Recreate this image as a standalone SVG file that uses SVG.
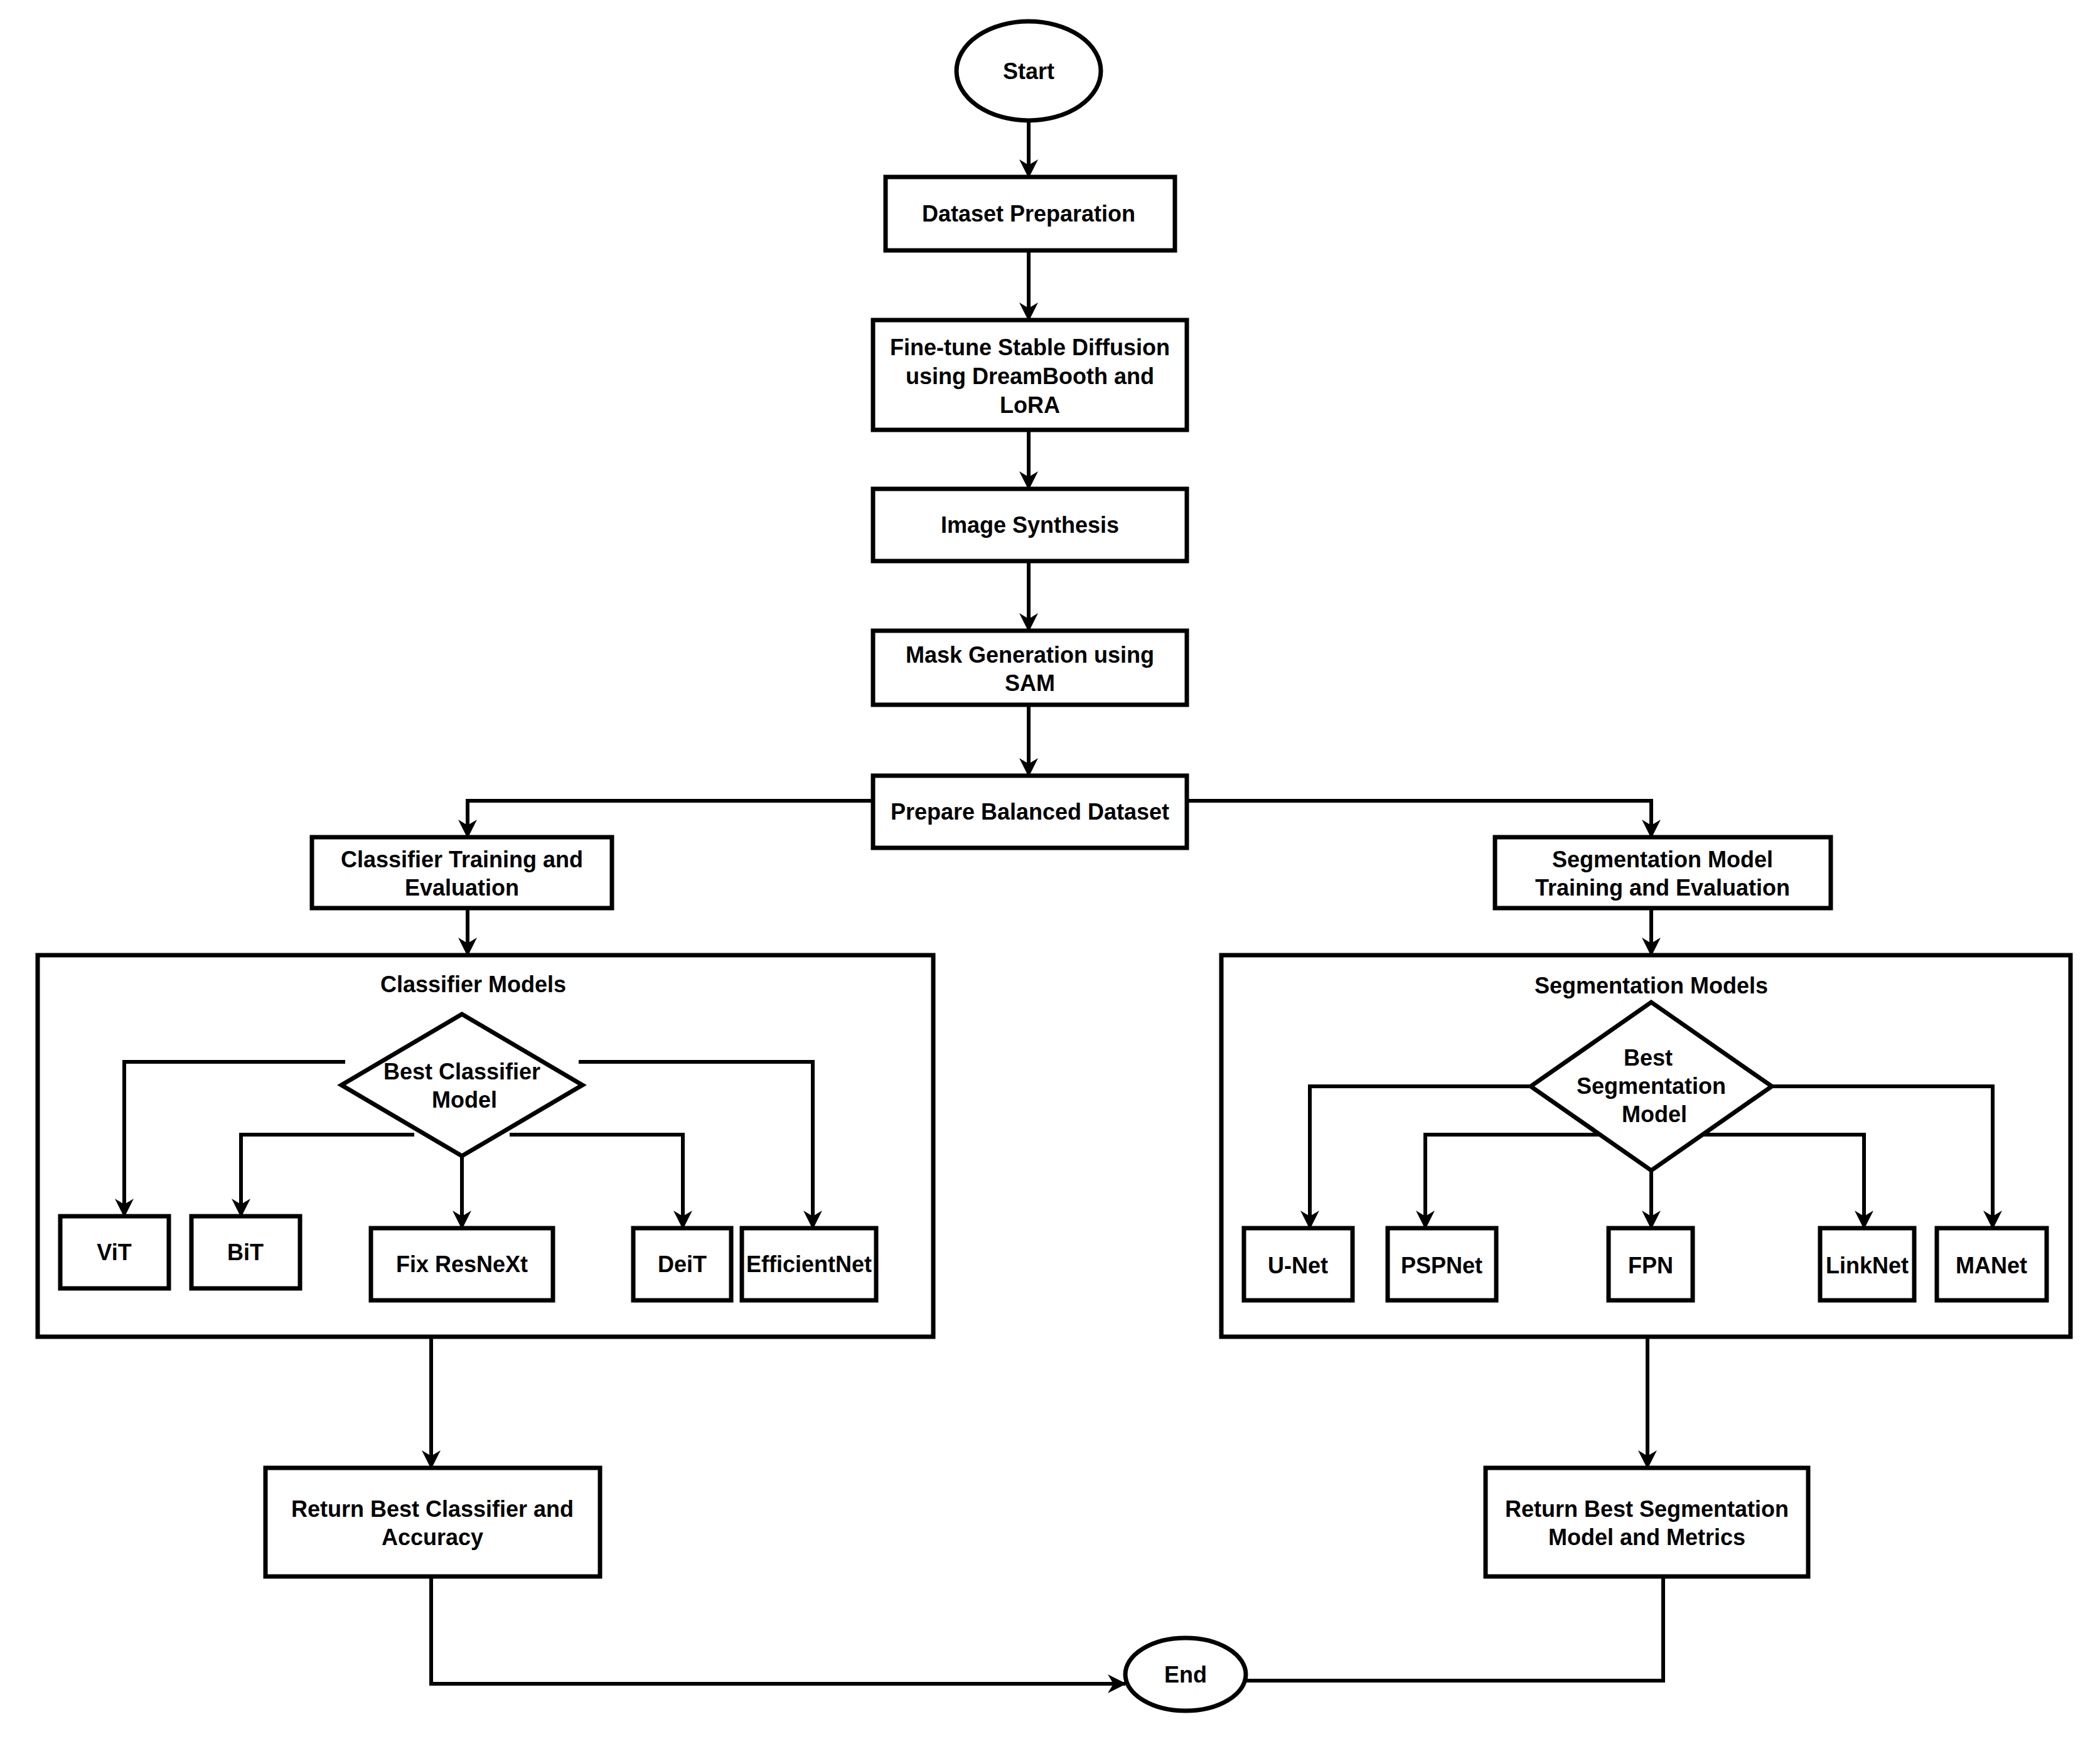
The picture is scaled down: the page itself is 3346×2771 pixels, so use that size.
<svg xmlns="http://www.w3.org/2000/svg" width="3346" height="2771" viewBox="0 0 3346 2771">
<style>
.s{fill:#fff;stroke:#000;stroke-width:7}
.c{fill:none;stroke:#000;stroke-width:6}
text{font-family:"Liberation Sans",Arial,sans-serif;font-weight:bold;font-size:36px;text-anchor:middle;fill:#000}
</style>
<defs><marker id="a" markerWidth="10" markerHeight="10" refX="8" refY="5" orient="auto" markerUnits="userSpaceOnUse" viewBox="0 0 10 10" style="overflow:visible"><path d="M0,0 L10,5 L0,10 L3,5 Z" transform="scale(3.2) translate(-5.5,-3.4)" fill="#000"/></marker>
<marker id="m" viewBox="0 0 30 30" refX="28" refY="15" markerWidth="30" markerHeight="30" orient="auto" markerUnits="userSpaceOnUse"><path d="M0,0 L30,15 L0,30 L9,15 Z" fill="#000"/></marker></defs>
<rect width="3346" height="2771" fill="#fff"/>
<g id="connectors">
<path class="c" marker-end="url(#m)" d="M1639,192 V282"/>
<path class="c" marker-end="url(#m)" d="M1639,399 V510"/>
<path class="c" marker-end="url(#m)" d="M1639,685 V779"/>
<path class="c" marker-end="url(#m)" d="M1639,894 V1005"/>
<path class="c" marker-end="url(#m)" d="M1639,1123 V1236"/>
<path class="c" marker-end="url(#m)" d="M1391,1276 H745 V1334"/>
<path class="c" marker-end="url(#m)" d="M1891,1276 H2631 V1334"/>
<path class="c" marker-end="url(#m)" d="M745,1447 V1522"/>
<path class="c" marker-end="url(#m)" d="M2631,1447 V1522"/>
<path class="c" marker-end="url(#m)" d="M550,1692 H198 V1938"/>
<path class="c" marker-end="url(#m)" d="M922,1692 H1295 V1957"/>
<path class="c" marker-end="url(#m)" d="M660,1808 H384 V1938"/>
<path class="c" marker-end="url(#m)" d="M812,1808 H1088 V1957"/>
<path class="c" marker-end="url(#m)" d="M736,1842 V1957"/>
<path class="c" marker-end="url(#m)" d="M2439,1731 H2087 V1957"/>
<path class="c" marker-end="url(#m)" d="M2823,1731 H3175 V1957"/>
<path class="c" marker-end="url(#m)" d="M2578,1808 H2271 V1957"/>
<path class="c" marker-end="url(#m)" d="M2684,1808 H2970 V1957"/>
<path class="c" marker-end="url(#m)" d="M2631,1865 V1957"/>
<path class="c" marker-end="url(#m)" d="M687,2130 V2339"/>
<path class="c" marker-end="url(#m)" d="M2625,2130 V2339"/>
<path class="c" marker-end="url(#m)" d="M687,2512 V2683 H1793"/>
<path class="c" d="M2650,2512 V2678 H1985"/>
</g>
<g id="start"><ellipse class="s" cx="1639" cy="113" rx="115" ry="79"/><text x="1639" y="126">Start</text></g>
<g id="dataset"><rect class="s" x="1411" y="282" width="461" height="117"/><text x="1639" y="353">Dataset Preparation</text></g>
<g id="finetune"><rect class="s" x="1391" y="510" width="500" height="175"/><text x="1641" y="566">Fine-tune Stable Diffusion</text><text x="1641" y="612">using DreamBooth and</text><text x="1641" y="658">LoRA</text></g>
<g id="synth"><rect class="s" x="1391" y="779" width="500" height="115"/><text x="1641" y="849">Image Synthesis</text></g>
<g id="mask"><rect class="s" x="1391" y="1005" width="500" height="118"/><text x="1641" y="1056">Mask Generation using</text><text x="1641" y="1101">SAM</text></g>
<g id="balanced"><rect class="s" x="1391" y="1236" width="500" height="115"/><text x="1641" y="1306">Prepare Balanced Dataset</text></g>
<g id="clstrain"><rect class="s" x="497" y="1334" width="478" height="113"/><text x="736" y="1382">Classifier Training and</text><text x="736" y="1427">Evaluation</text></g>
<g id="segtrain"><rect class="s" x="2382" y="1334" width="535" height="113"/><text x="2649" y="1382">Segmentation Model</text><text x="2649" y="1427">Training and Evaluation</text></g>
<g id="clsmodels"><rect class="s" x="60" y="1522" width="1427" height="608" fill="none" style="fill:none"/><text x="754" y="1581">Classifier Models</text></g>
<g id="segmodels"><rect class="s" x="1946" y="1522" width="1353" height="608" style="fill:none"/><text x="2631" y="1583">Segmentation Models</text></g>
<g id="bestcls"><polygon class="s" points="736,1616 928,1729 736,1842 544,1729"/><text x="736" y="1720">Best Classifier</text><text x="740" y="1765">Model</text></g>
<g id="bestseg"><polygon class="s" points="2631,1597 2823,1731 2631,1865 2439,1731"/><text x="2626" y="1698">Best</text><text x="2631" y="1743">Segmentation</text><text x="2636" y="1788">Model</text></g>
<g id="vit"><rect class="s" x="96" y="1938" width="173" height="115"/><text x="182" y="2008">ViT</text></g>
<g id="bit"><rect class="s" x="305" y="1938" width="173" height="115"/><text x="391" y="2008">BiT</text></g>
<g id="fix"><rect class="s" x="591" y="1957" width="290" height="115"/><text x="736" y="2027">Fix ResNeXt</text></g>
<g id="deit"><rect class="s" x="1009" y="1957" width="156" height="115"/><text x="1087" y="2027">DeiT</text></g>
<g id="eff"><rect class="s" x="1182" y="1957" width="214" height="115"/><text x="1289" y="2027">EfficientNet</text></g>
<g id="unet"><rect class="s" x="1982" y="1957" width="173" height="115"/><text x="2068" y="2029">U-Net</text></g>
<g id="psp"><rect class="s" x="2211" y="1957" width="173" height="115"/><text x="2297" y="2029">PSPNet</text></g>
<g id="fpn"><rect class="s" x="2563" y="1957" width="134" height="115"/><text x="2630" y="2029">FPN</text></g>
<g id="link"><rect class="s" x="2900" y="1957" width="150" height="115"/><text x="2975" y="2029">LinkNet</text></g>
<g id="manet"><rect class="s" x="3086" y="1957" width="175" height="115"/><text x="3173" y="2029">MANet</text></g>
<g id="retcls"><rect class="s" x="423" y="2339" width="533" height="173"/><text x="689" y="2417">Return Best Classifier and</text><text x="689" y="2462">Accuracy</text></g>
<g id="retseg"><rect class="s" x="2367" y="2339" width="514" height="173"/><text x="2624" y="2417">Return Best Segmentation</text><text x="2624" y="2462">Model and Metrics</text></g>
<g id="end"><ellipse class="s" cx="1889" cy="2668" rx="96" ry="58"/><text x="1889" y="2681">End</text></g>
</svg>
